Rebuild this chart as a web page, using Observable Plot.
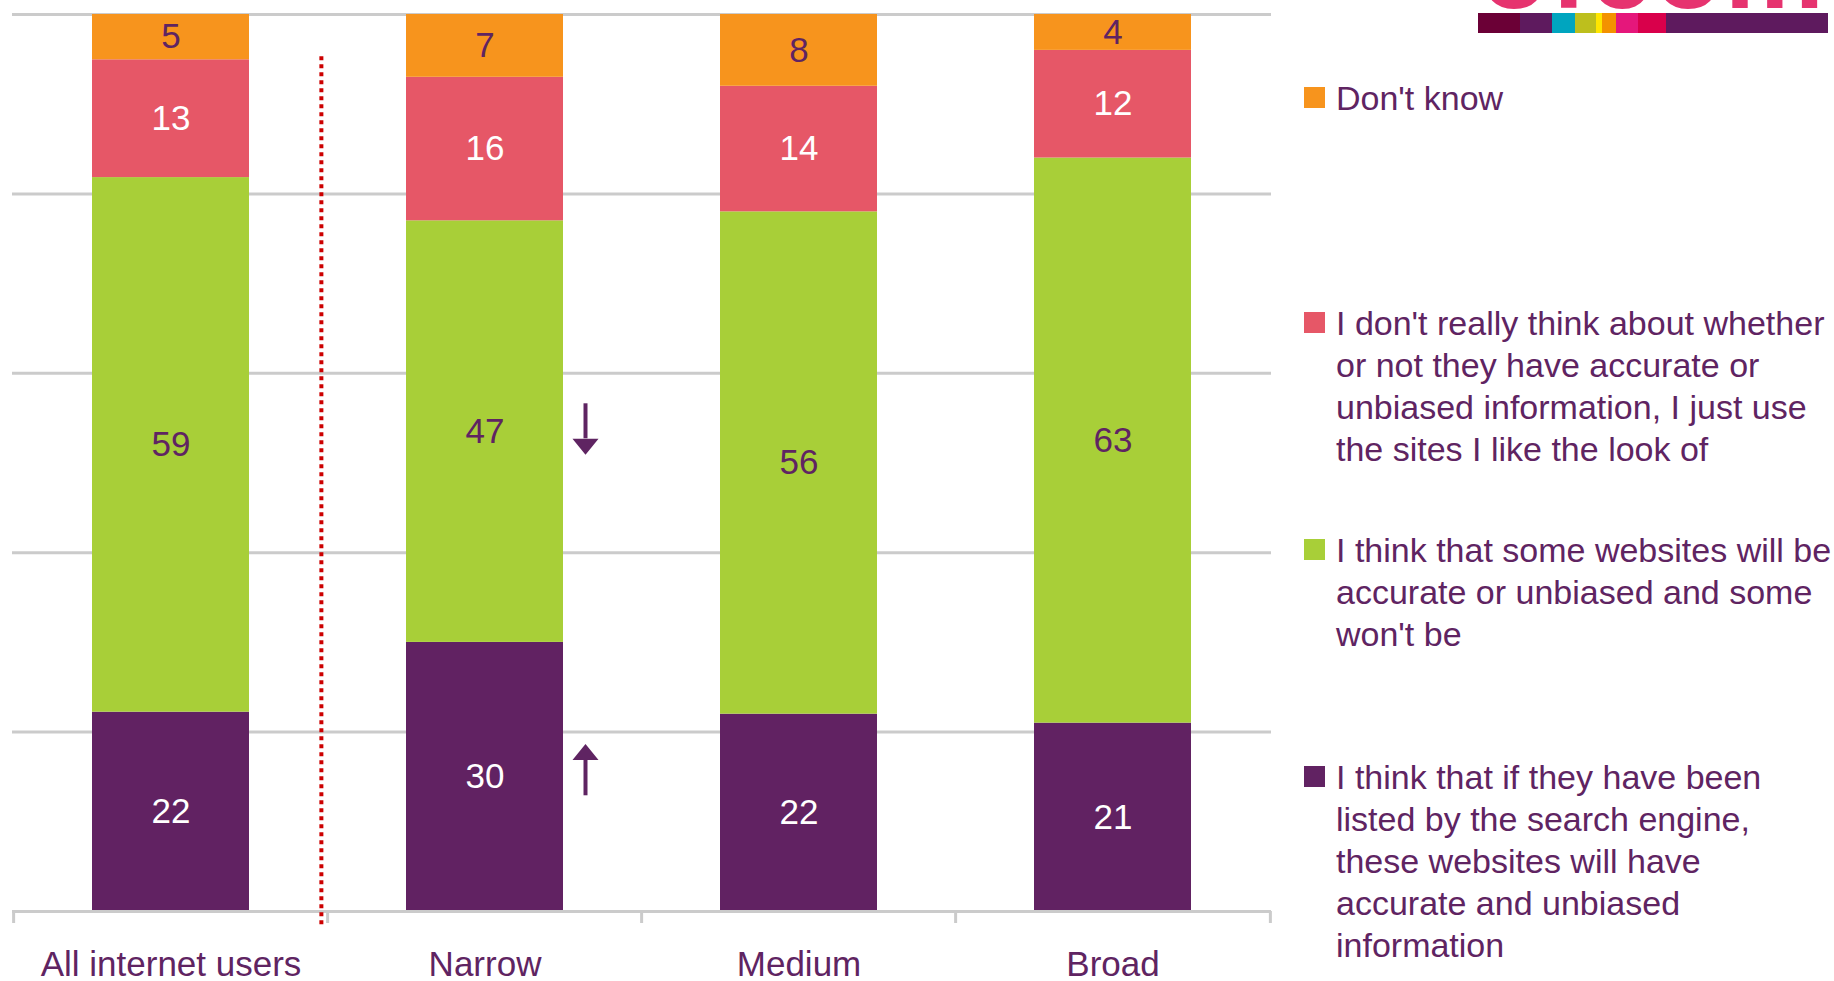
<!DOCTYPE html>
<html><head><meta charset="utf-8">
<script src="https://cdn.jsdelivr.net/npm/d3@7"></script>
<script src="https://cdn.jsdelivr.net/npm/@observablehq/plot@0.6"></script>
<style>
html,body{margin:0;padding:0;background:#fff;}
body{font-family:"Liberation Sans",Arial,Helvetica,sans-serif;}
#wrap{position:relative;width:1834px;height:981px;overflow:hidden;background:#fff;}
#chart{position:absolute;left:0;top:0;}
.item{position:absolute;left:1304px;color:#5F2462;font-size:34px;line-height:42px;}
.sw{position:absolute;left:0;width:21px;height:21px;}
.lt{position:absolute;left:32px;top:0;white-space:nowrap;}
#logo{position:absolute;left:0;top:0;width:1834px;height:60px;}
.seg{position:absolute;top:13px;height:20px;}
#logotext{position:absolute;right:8px;top:-86px;font-size:112px;line-height:1;font-weight:bold;color:#E6336F;letter-spacing:2px;}
</style></head><body>
<div id="wrap"><div id="chart"></div><div id="legend"></div><div id="logo"><div id="logotext">ofcom</div></div></div>
<script>
// ---- data ----
const categories = ["All internet users", "Narrow", "Medium", "Broad"];
// series, bottom to top of each bar
const seriesNames = [
  "I think that if they have been listed by the search engine, these websites will have accurate and unbiased information",
  "I think that some websites will be accurate or unbiased and some won't be",
  "I don't really think about whether or not they have accurate or unbiased information, I just use the sites I like the look of",
  "Don't know"
];
const listedValues = [22, 30, 22, 21];
const someValues = [59, 47, 56, 63];
const dontThinkValues = [13, 16, 14, 12];
const dontKnowValues = [5, 7, 8, 4];
const seriesValues = [listedValues, someValues, dontThinkValues, dontKnowValues];
const gridTicks = [0.2, 0.4, 0.6, 0.8, 1];
// legend text lines (top to bottom of legend)
const legendOrder = [3, 2, 1, 0];
const legendLines = [
  ["I think that if they have been", "listed by the search engine,", "these websites will have", "accurate and unbiased", "information"],
  ["I think that some websites will be", "accurate or unbiased and some", "won't be"],
  ["I don't really think about whether", "or not they have accurate or", "unbiased information, I just use", "the sites I like the look of"],
  ["Don't know"]
];
// significance arrows (share of bar)
const arrows = [
  {category: "Narrow", dir: "down", tail: 0.566, headBase: 0.527, tip: 0.5095},
  {category: "Narrow", dir: "up", tail: 0.129, headBase: 0.1695, tip: 0.186}
];
// divider line extent (share of axis)
const divider = {category: "All internet users", top: 0.953, bottom: -0.015};
// logo strip
const logoColors = ["#6B0036", "#5E1A5E", "#00A5BF", "#BDBF1D", "#FFE600", "#F39200", "#E5177B", "#D9004B", "#5E1A5E"];
const logoWidths = [42, 32, 23, 21, 6, 14, 22, 28, 162];

// ---- styles ----
const seriesColors = ["#612262", "#A8CF38", "#E65767", "#F7941D"];
const labelColors = ["#ffffff", "#5F2462", "#ffffff", "#5F2462"];
const textPurple = "#5F2462";
const gridGray = "#CBCBCB";

const data = [];
seriesNames.forEach((s, i) => categories.forEach((c, j) => data.push({category: c, series: s, value: seriesValues[i][j]})));

const whiteSeries = new Set(seriesNames.filter((s, i) => labelColors[i] === "#ffffff"));
const stackOpts = {x: "category", y: "value", z: "series", order: seriesNames, offset: "normalize"};

const W = 1290, ML = 12, MR = 19;
const step = (W - ML - MR) / 4;
const tickDepth = 0.0134;
const arrowDx = 100.5;

function tri(dir) {
  return {
    draw(ctx, size) {
      const w = Math.sqrt(size / Math.PI);
      const h = w * 16 / 13 / 2;
      if (dir === "down") { ctx.moveTo(-w, -h); ctx.lineTo(w, -h); ctx.lineTo(0, h); }
      else { ctx.moveTo(-w, h); ctx.lineTo(w, h); ctx.lineTo(0, -h); }
      ctx.closePath();
    }
  };
}

const chart = Plot.plot({
  width: W, height: 981,
  marginTop: 14, marginBottom: 70, marginLeft: ML, marginRight: MR,
  x: {domain: categories, paddingInner: 0.5, paddingOuter: 0.25, label: null, tickSize: 0, tickPadding: 40},
  y: {domain: [0, 1], axis: null},
  color: {domain: seriesNames, range: seriesColors},
  style: {fontFamily: '"Liberation Sans", Arial, sans-serif', fontSize: "35px", color: textPurple, background: "white", overflow: "visible"},
  marks: [
    Plot.ruleY(gridTicks, {stroke: gridGray, strokeWidth: 3}),
    Plot.barY(data, Plot.stackY({...stackOpts, fill: "series"})),
    Plot.ruleY([0], {stroke: gridGray, strokeWidth: 3}),
    Plot.ruleX(categories, {x: d => d, y1: 0, y2: -tickDepth, dx: -step / 2, stroke: gridGray, strokeWidth: 3}),
    Plot.ruleX([categories[categories.length - 1]], {x: d => d, y1: 0, y2: -tickDepth, dx: step / 2, stroke: gridGray, strokeWidth: 3}),
    Plot.ruleX([divider], {x: "category", y1: "top", y2: "bottom", dx: step / 2 - 7, stroke: "#CC0000", strokeWidth: 4, strokeDasharray: "4,4"}),
    Plot.text(data, Plot.stackY({...stackOpts, text: d => whiteSeries.has(d.series) ? String(d.value) : null, fill: "#ffffff", fontSize: 35})),
    Plot.text(data, Plot.stackY({...stackOpts, text: d => whiteSeries.has(d.series) ? null : String(d.value), fill: textPurple, fontSize: 35})),
    Plot.ruleX(arrows, {x: "category", y1: "tail", y2: "headBase", dx: arrowDx, stroke: textPurple, strokeWidth: 4}),
    Plot.dot(arrows.filter(a => a.dir === "down"), {x: "category", y: d => (d.headBase + d.tip) / 2, dx: arrowDx, r: 13, symbol: tri("down"), fill: textPurple, stroke: "none"}),
    Plot.dot(arrows.filter(a => a.dir === "up"), {x: "category", y: d => (d.headBase + d.tip) / 2, dx: arrowDx, r: 13, symbol: tri("up"), fill: textPurple, stroke: "none"})
  ]
});
document.getElementById("chart").appendChild(chart);

// ---- legend ----
const legendCenters = [98, 323, 550, 777];
const legendEl = document.getElementById("legend");
legendOrder.forEach((si, k) => {
  const item = document.createElement("div");
  item.className = "item";
  item.style.top = (legendCenters[k] - 21) + "px";
  const sw = document.createElement("div");
  sw.className = "sw";
  sw.style.background = seriesColors[si];
  sw.style.top = "10px";
  item.appendChild(sw);
  const lt = document.createElement("div");
  lt.className = "lt";
  lt.innerHTML = legendLines[si].map(l => l.replace(/&/g, "&amp;")).join("<br>");
  item.appendChild(lt);
  legendEl.appendChild(item);
});

// ---- logo strip ----
const logo = document.getElementById("logo");
let lx = 1478;
logoColors.forEach((c, i) => {
  const s = document.createElement("div");
  s.className = "seg";
  s.style.left = lx + "px";
  s.style.width = logoWidths[i] + "px";
  s.style.background = c;
  logo.appendChild(s);
  lx += logoWidths[i];
});
</script>
</body></html>
